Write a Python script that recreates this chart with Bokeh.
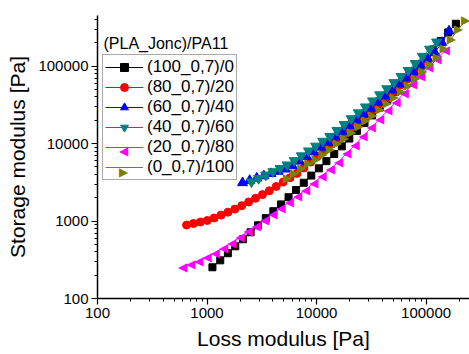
import math
from bokeh.plotting import figure
from bokeh.models import (FixedTicker, CustomJSTickFormatter, Legend, LegendItem, Label,
                          Range1d, ColumnDataSource)
from bokeh.core.properties import value
from bokeh.embed import file_html
from bokeh.resources import INLINE

# ---------------- data (Loss modulus G'' [Pa], Storage modulus G' [Pa]) ----------------
legend_title = "(PLA_Jonc)/PA11"
x_title = "Loss modulus [Pa]"
y_title = "Storage modulus [Pa]"
series_names = ["(100_0,7)/0", "(80_0,7)/20", "(60_0,7)/40",
                "(40_0,7)/60", "(20_0,7)/80", "(0_0,7)/100"]

loss_100 = [1120, 1320, 1550, 1810, 2130, 2500, 2920, 3440, 4030, 4730, 5550, 6500,
            7640, 8950, 10500, 12300, 14500, 17000, 19900, 23400, 27400, 32100, 37800,
            44300, 52000, 61000, 71500, 84000, 98400, 116000, 136000, 159000, 187000]
stor_100 = [253, 311, 384, 472, 582, 716, 881, 1090, 1340, 1640, 2030, 2510,
            3120, 3860, 4790, 5930, 7330, 9200, 11600, 14600, 18400, 23100, 29200,
            36700, 46300, 58900, 75900, 98200, 126000, 164000, 211000, 272000, 352000]

loss_80 = [650, 752, 869, 1005, 1161, 1343, 1552, 1795, 2075, 2399, 2773, 3206,
           3707, 4285, 4955, 5728, 6622, 7656, 8851, 10230, 11830, 13680, 15810,
           18280, 21130, 24430, 28250, 32660, 37760, 43650, 50470, 58340, 67450,
           77980, 90160, 104200]
stor_80 = [887, 929, 971, 1016, 1094, 1194, 1303, 1426, 1578, 1762, 1968, 2193,
           2460, 2799, 3184, 3622, 4121, 4831, 5768, 6887, 8222, 9817, 11720,
           13960, 16670, 19910, 23770, 28310, 33730, 40180, 47860, 57150, 68080,
           81280, 97500, 117000]

loss_60 = [2109, 2449, 2844, 3304, 3837, 4457, 5176, 6012, 6982, 8110, 9419, 10940,
           12710, 14760, 17140, 19910, 23120, 26850, 31190, 36220, 42070, 48870,
           56750, 65920, 76560, 88920, 103300, 120000, 139300, 161800]
stor_60 = [3119, 3334, 3573, 3819, 4093, 4375, 4677, 5152, 5916, 6792, 7798, 8954,
           10280, 12110, 14350, 17020, 20180, 23930, 28440, 34120, 40830, 48980,
           58610, 70310, 84530, 102100, 123300, 148900, 201400, 283100]

loss_40 = [2547, 2958, 3436, 3990, 4634, 5383, 6252, 7261, 8433, 9795, 11380, 13210,
           15350, 17820, 20700, 24040, 27930, 32430, 37670, 43750, 50820, 59020,
           68550, 79620, 92470, 107400, 124700]
stor_40 = [3206, 3548, 3926, 4345, 4797, 5309, 6039, 6966, 8054, 9290, 10740, 12390,
           14790, 17620, 20990, 25000, 29790, 35650, 42760, 51170, 61380, 73620,
           88100, 108400, 134000, 166000, 205100]

loss_20 = [597, 710, 843, 1002, 1191, 1416, 1683, 2000, 2377, 2825, 3357, 3990,
           4742, 5636, 6699, 7962, 9462, 11250, 13370, 15890, 18880, 22440, 26670,
           31700, 37670, 44770, 53210, 63240, 75160, 89330, 106200, 126200, 150000]
stor_20 = [253, 279, 307, 339, 392, 454, 526, 621, 735, 867, 1035, 1236,
           1476, 1766, 2118, 2535, 3119, 3837, 4721, 5808, 7499, 9683, 12500,
           16140, 20840, 26920, 34750, 44870, 57940, 74820, 96600, 124700, 161100]

loss_0 = [5433, 6310, 7328, 8511, 9886, 11480, 13340, 15490, 17990, 20890, 24270,
          28180, 32730, 38020, 44160, 51290, 59570, 69180, 80350, 93330, 108400,
          125900, 146200, 169800, 197200, 229100]
stor_0 = [3614, 4169, 4797, 5534, 6368, 7345, 8492, 10070, 11940, 14160, 16790,
          19910, 23660, 28250, 33650, 40090, 47750, 56890, 70150, 86700, 107400,
          132700, 171400, 226500, 299200, 395400]

major_ticks = [100, 1000, 10000, 100000]

# ---------------- styling / layout ----------------
colors = ["#000000", "#FF0000", "#0000FF", "#008080", "#FF00FF", "#808000"]
# bokeh scatter marker name, or a glyph character for sideways-pointing triangles
markers = ["square", "circle", "triangle", "inverted_triangle", "\u25C0", "\u25B6"]
sizes = [7, 8, 10, 10, 10, 10]
xs = [loss_100, loss_80, loss_60, loss_40, loss_20, loss_0]
ys = [stor_100, stor_80, stor_60, stor_40, stor_20, stor_0]

FONT = "Liberation Sans"
TRI_FONT = "DejaVu Sans"
TRI_SIZE = "12px"

W, H = 469, 354
BL, BR, BT, BB = 97, 0, 15, 56
X0, X1 = 100, 249000
Y0, Y1 = 100, 450000

p = figure(width=W, height=H, x_axis_type="log", y_axis_type="log",
           x_range=Range1d(X0, X1), y_range=Range1d(Y0, Y1),
           output_backend="svg", toolbar_location=None,
           min_border_left=BL, min_border_right=BR, min_border_top=BT, min_border_bottom=BB)

# pixel -> data helpers (for placing annotations at canvas pixel positions)
fw, fh = W - BL - BR, H - BT - BB
def px_to_x(px):
    return 10 ** (math.log10(X0) + (px - BL) / fw * (math.log10(X1) - math.log10(X0)))
def py_to_y(py):
    return 10 ** (math.log10(Y0) + (H - BB - py) / fh * (math.log10(Y1) - math.log10(Y0)))

p.outline_line_color = None
p.xgrid.visible = False
p.ygrid.visible = False
p.background_fill_color = "white"
p.border_fill_color = "white"

minor = [m * 10 ** e for e in range(2, 6) for m in range(2, 10)]
for ax, lab in ((p.xaxis[0], x_title), (p.yaxis[0], y_title)):
    ax.ticker = FixedTicker(ticks=major_ticks, minor_ticks=minor)
    ax.formatter = CustomJSTickFormatter(code="return tick.toFixed(0);")
    ax.axis_label = lab
    ax.axis_label_text_font = FONT
    ax.axis_label_text_font_size = "21px"
    ax.axis_label_text_font_style = "normal"
    ax.axis_label_text_color = "black"
    ax.major_label_text_font = FONT
    ax.major_label_text_font_size = "15px"
    ax.major_label_text_color = "black"
    ax.axis_line_width = 1.5
    ax.axis_line_color = "black"
    ax.major_tick_line_color = "black"
    ax.minor_tick_line_color = "black"
    ax.major_tick_line_width = 1.2
    ax.minor_tick_line_width = 1
    ax.major_tick_in = 0
    ax.major_tick_out = 6
    ax.minor_tick_in = 0
    ax.minor_tick_out = 3

p.xaxis[0].major_label_standoff = 3
p.xaxis[0].axis_label_standoff = 6
p.yaxis[0].major_label_standoff = 3
p.yaxis[0].axis_label_standoff = 6

items = []
overlay = []
for i, (name, x, y, c, mk, sz) in enumerate(zip(series_names, xs, ys, colors, markers, sizes)):
    src = ColumnDataSource(data=dict(x=x, y=y))
    lr = p.line("x", "y", source=src, line_color=c, line_width=1)
    if len(mk) == 1:
        p.text("x", "y", source=src, text=value(mk), text_font=value(TRI_FONT),
               text_font_size=value(TRI_SIZE), text_color=c,
               text_align="center", text_baseline="middle")
        items.append(LegendItem(label=name, renderers=[lr]))
        overlay.append((i, mk, c))
    else:
        sr = p.scatter("x", "y", source=src, marker=mk, size=sz,
                       fill_color=c, line_color=c)
        items.append(LegendItem(label=name, renderers=[lr, sr]))

LEG_X, LEG_Y = 5, 118   # legend bottom-left, px from frame bottom-left
ROW_H = 20.6            # rendered row pitch of the legend
PAD = 2
legend = Legend(items=items, location=(LEG_X, LEG_Y))
legend.label_text_font = FONT
legend.label_text_font_size = "17px"
legend.label_text_color = "black"
legend.glyph_width = 38
legend.glyph_height = 20
legend.label_height = 20
legend.label_standoff = 4
legend.spacing = 0
legend.padding = PAD
legend.margin = 0
legend.border_line_color = "#555555"
legend.border_line_width = 1
legend.background_fill_alpha = 0      # transparent, so the symbols below show through
p.add_layout(legend)

# sideways-triangle symbols for the legend rows whose series are drawn with text glyphs
leg_bottom_px = H - BB - LEG_Y
n = len(series_names)
for i, mk, c in overlay:
    cy = leg_bottom_px - 9 - ROW_H * (n - 1 - i)
    p.add_layout(Label(x=px_to_x(BL + LEG_X + PAD + 19), y=py_to_y(cy), text=mk,
                       text_font=TRI_FONT, text_font_size=TRI_SIZE, text_color=c,
                       text_align="center", text_baseline="middle"))

p.add_layout(Label(x=px_to_x(103), y=py_to_y(43), text=legend_title, text_font=FONT,
                   text_font_size="16px", text_color="black",
                   text_baseline="alphabetic", text_align="left"))

open("out.html", "w").write(file_html(p, INLINE))
